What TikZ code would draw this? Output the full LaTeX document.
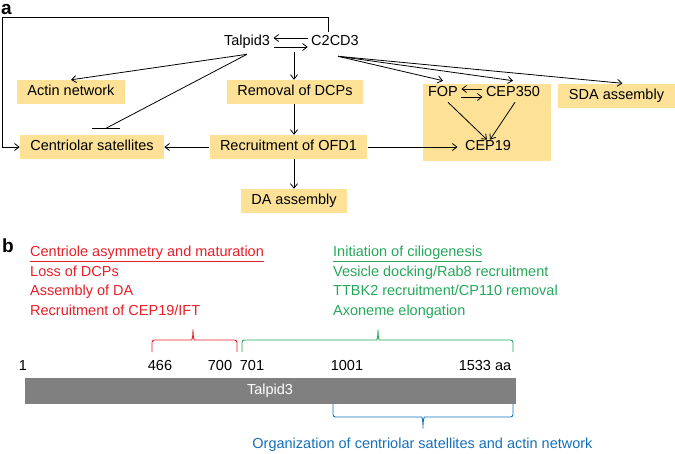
\documentclass[tikz,border=0pt]{standalone}
\usepackage{fontspec}
\setmainfont{Liberation Sans}
\usetikzlibrary{arrows.meta,calc}

\definecolor{boxyellow}{RGB}{252,225,150}
\definecolor{redtx}{RGB}{232,30,40}
\definecolor{greentx}{RGB}{36,168,90}
\definecolor{bluetx}{RGB}{20,112,186}
\definecolor{bargray}{RGB}{128,128,128}

\tikzset{
	every node/.style={font=\fontsize{14.5}{17}\selectfont, text height=10.5pt, text depth=3pt},
	hl/.style={fill=boxyellow, inner xsep=10.5pt, inner ysep=0pt, minimum height=24pt},
	conn/.style={-{Straight Barb[length=4.5pt,width=7pt]}, line width=0.8pt},
	thin line/.style={line width=0.8pt},
	panel/.style={font=\bfseries\fontsize{19}{19}\selectfont, inner sep=0pt, text height=13pt, text depth=0pt},
	brace line/.style={line width=0.9pt, rounded corners=2.5pt},
}

\begin{document}
\begin{tikzpicture}[x=1pt,y=-1pt]
	
	\useasboundingbox (0,0) rectangle (675,453);
	
	% --- panel a ---
	\node[panel, anchor=north west] (lbla) at (1,1) {a};
	
	% shaded group behind FOP / CEP350 / CEP19
	\node[fill=boxyellow, minimum width=128pt, minimum height=77pt, inner sep=0pt] (grp) at (487,122.5) {};
	
	\node (talpid) at (247,42) {Talpid3};
	\node (c2cd3)  at (335,42) {C2CD3};
	\coordinate (hub) at (294,42);
	
	\node[hl] (actin)   at (71,92)  {Actin network};
	\node[hl] (removal) at (295,92) {Removal of DCPs};
	\node     (fop)     at (443,93) {FOP};
	\node     (cep350)  at (513,93) {CEP350};
	\node[hl] (sda)     at (616.5,95.5) {SDA assembly};
	
	\node[hl] (centsat) at (92,147)  {Centriolar satellites};
	\node[hl] (ofd1)    at (288.5,147) {Recruitment of OFD1};
	\node     (cep19)   at (488,147) {CEP19};
	
	\node[hl] (da) at (294,201) {DA assembly};
	
	% Talpid3 <-> C2CD3
	\draw[conn] ([yshift=4pt]c2cd3.west) -- ([yshift=4pt]talpid.east);
	\draw[conn] ([yshift=-5pt]talpid.east) -- ([yshift=-5pt]c2cd3.west);
	
	% feedback loop over the top
	\coordinate (loopa) at ([xshift=-7pt]c2cd3.north);
	\draw[conn] (loopa) -- ++(0,-14) -| (2,147) -- (centsat.west);
	
	% Talpid3 targets
	\draw[conn] ([yshift=-2pt]talpid.south) -- (actin.north);
	\coordinate (inh) at ([xshift=13pt,yshift=6pt]centsat.north);
	\draw[thin line] ([yshift=-2pt]talpid.south) -- (inh);
	\draw[thin line] ([xshift=-13pt]inh) -- ([xshift=15pt]inh);
	
	% central column
	\draw[conn] ([yshift=-10pt]hub) -- (hub |- removal.north);
	\draw[conn] (removal.south -| hub) -- (hub |- ofd1.north);
	\draw[conn] (ofd1.west) -- (centsat.east);
	\draw[conn] (ofd1.south -| hub) -- (hub |- da.north);
	\draw[conn] (ofd1.east) -- ([xshift=-4pt]cep19.west);
	
	% C2CD3 targets
	\coordinate (c2out) at ([xshift=3pt,yshift=-4pt]c2cd3.south);
	\draw[conn] (c2out) -- ([yshift=2pt]fop.north);
	\draw[conn] (c2out) -- ([yshift=2pt]cep350.north);
	\draw[conn] (c2out) -- ([xshift=6pt]sda.north);
	
	% FOP <-> CEP350, both to CEP19
	\draw[conn] ([yshift=4pt]cep350.west) -- ([yshift=4pt]fop.east);
	\draw[conn] ([yshift=-4pt]fop.east) -- ([yshift=-4pt]cep350.west);
	\draw[conn] ([xshift=5pt,yshift=1pt]fop.south) -- ([xshift=-1pt,yshift=-3pt]cep19.north);
	\draw[conn] ([xshift=2pt,yshift=1pt]cep350.south) -- ([xshift=2pt,yshift=-3pt]cep19.north);
	
	% --- panel b ---
	\node[panel] (lblb) at (8,246) {b};
	
	% functions of the N-terminal half
	\node[redtx, anchor=west, inner sep=0pt] (redh) at (30,253) {\underline{Centriole asymmetry and maturation}};
	\node[redtx, anchor=west, inner sep=0pt] (red1) at (30,273) {Loss of DCPs};
	\node[redtx, anchor=west, inner sep=0pt] (red2) at (30,292) {Assembly of DA};
	\node[redtx, anchor=west, inner sep=0pt] (red3) at (30,312) {Recruitment of CEP19/IFT};
	
	% functions of the C-terminal half
	\node[greentx, anchor=west, inner sep=0pt] (grnh) at (333,253) {\underline{Initiation of ciliogenesis}};
	\node[greentx, anchor=west, inner sep=0pt] (grn1) at (333,273) {Vesicle docking/Rab8 recruitment};
	\node[greentx, anchor=west, inner sep=0pt] (grn2) at (333,292) {TTBK2 recruitment/CP110 removal};
	\node[greentx, anchor=west, inner sep=0pt] (grn3) at (333,312) {Axoneme elongation};
	
	% braces
	\draw[redtx, brace line] (152,352) -- (152,340) -- (189,340)
		.. controls (192,340) and (193,337) .. (193,328)
		.. controls (193,337) and (194,340) .. (197,340) -- (237,340) -- (237,352);
	\draw[greentx, brace line] (242,352) -- (242,340) -- (374,340)
		.. controls (377,340) and (378,337) .. (378,328)
		.. controls (378,337) and (379,340) .. (382,340) -- (513,340) -- (513,352);
	\draw[bluetx, brace line] (333,404) -- (333,417) -- (419,417)
		.. controls (422,417) and (423,420) .. (423,430)
		.. controls (423,420) and (424,417) .. (427,417) -- (513,417) -- (513,404);
	
	% residue numbers
	\foreach \x/\lab in {23/1, 160/466, 220/700, 252/701, 347/1001, 485/1533 aa}{
		\node[inner sep=0pt] at (\x,367) {\lab};
	}
	
	% protein bar
	\fill[bargray] (25,378) rectangle (516,404);
	\node[white, inner sep=0pt] (tbar) at (270,391) {Talpid3};
	
	\node[bluetx, inner sep=0pt] (blu) at (422.5,445) {Organization of centriolar satellites and actin network};
	
\end{tikzpicture}
\end{document}
